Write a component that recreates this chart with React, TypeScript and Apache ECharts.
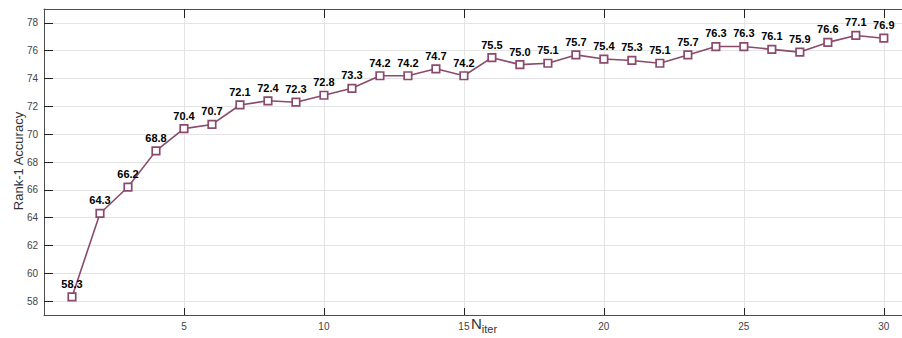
import React, { useEffect, useRef } from "react";
import * as echarts from "echarts";

// Iteration index and Rank-1 accuracy (%) at each iteration
const iterations: number[] = Array.from({ length: 30 }, (_, i) => i + 1);
const accuracy: number[] = [
  58.3, 64.3, 66.2, 68.8, 70.4, 70.7, 72.1, 72.4, 72.3, 72.8,
  73.3, 74.2, 74.2, 74.7, 74.2, 75.5, 75.0, 75.1, 75.7, 75.4,
  75.3, 75.1, 75.7, 76.3, 76.3, 76.1, 75.9, 76.6, 77.1, 76.9,
];
const xTicks: number[] = [5, 10, 15, 20, 25, 30];
const yTicks: number[] = [58, 60, 62, 64, 66, 68, 70, 72, 74, 76, 78];

const LINE = "#8a4a6c";
const AXIS = "#4d4d4d";
const GRID = "#e4e4e4";
const FONT = "'Liberation Sans', Arial, sans-serif";

export default function App() {
  const ref = useRef<HTMLDivElement>(null);

  useEffect(() => {
    if (!ref.current) return;
    const chart = echarts.init(ref.current, undefined, { renderer: "svg" });
    const xCommon = {
      type: "value" as const,
      min: 0,
      max: 30.65,
    };
    chart.setOption({
      animation: false,
      backgroundColor: "#ffffff",
      textStyle: { fontFamily: FONT },
      grid: {
        left: 44,
        right: 0,
        top: 9,
        bottom: 23,
        containLabel: false,
        outerBoundsMode: "none",
      },
      xAxis: [
        {
          ...xCommon,
          position: "bottom",
          axisLine: { show: true, onZero: false, lineStyle: { color: AXIS, width: 1 } },
          axisTick: {
            show: true,
            inside: true,
            length: 7,
            customValues: xTicks,
            lineStyle: { color: "#222", width: 1 },
          },
          axisLabel: {
            color: "#444",
            fontSize: 10,
            fontFamily: FONT,
            margin: 6,
            customValues: xTicks,
          },
          splitLine: { show: true, lineStyle: { color: GRID, width: 1 } },
        },
        {
          ...xCommon,
          position: "top",
          axisLine: { show: true, onZero: false, lineStyle: { color: AXIS, width: 1 } },
          axisTick: {
            show: true,
            inside: true,
            length: 9,
            customValues: xTicks,
            lineStyle: { color: "#222", width: 1 },
          },
          axisLabel: { show: false },
          splitLine: { show: false },
        },
      ],
      yAxis: {
        type: "value",
        min: 57,
        max: 79,
        axisLine: { show: true, onZero: false, lineStyle: { color: AXIS, width: 1 } },
        axisTick: {
          show: true,
          inside: true,
          length: 9,
          customValues: yTicks,
          lineStyle: { color: "#222", width: 1 },
        },
        axisLabel: {
          color: "#444",
          fontSize: 10,
          fontFamily: FONT,
          margin: 6,
          customValues: yTicks,
        },
        splitLine: { show: true, lineStyle: { color: GRID, width: 1 } },
      },
      graphic: [
        {
          type: "text",
          left: 471,
          top: 313,
          style: {
            text: "{n|N}{s|iter}",
            rich: {
              n: { fontSize: 15, fontFamily: FONT, fill: "#333", verticalAlign: "top", lineHeight: 16 },
              s: { fontSize: 11, fontFamily: FONT, fill: "#333", padding: [10, 0, 0, 0], lineHeight: 16 },
            },
          },
        },
        {
          type: "text",
          x: 18,
          y: 161,
          rotation: Math.PI / 2,
          style: {
            text: "Rank-1 Accuracy",
            fontSize: 13,
            fontFamily: FONT,
            fill: "#333",
            align: "center",
            verticalAlign: "middle",
          },
        },
      ],
      series: [
        {
          type: "line",
          xAxisIndex: 0,
          data: iterations.map((x, i) => [x, accuracy[i]]),
          symbol: "rect",
          symbolSize: 7.5,
          showAllSymbol: true,
          lineStyle: { color: LINE, width: 1.6 },
          itemStyle: { color: "#ffffff", borderColor: LINE, borderWidth: 1.7 },
          label: {
            show: true,
            position: "top",
            distance: 3,
            color: "#000",
            fontWeight: "bold",
            fontSize: 11,
            fontFamily: FONT,
            formatter: (p: any) => (p.value[1] as number).toFixed(1),
          },
          emphasis: { disabled: true },
        },
      ],
    });
    return () => chart.dispose();
  }, []);

  return (
    <div
      ref={ref}
      style={{ position: "fixed", left: 0, top: 0, width: 902, height: 338 }}
    />
  );
}
